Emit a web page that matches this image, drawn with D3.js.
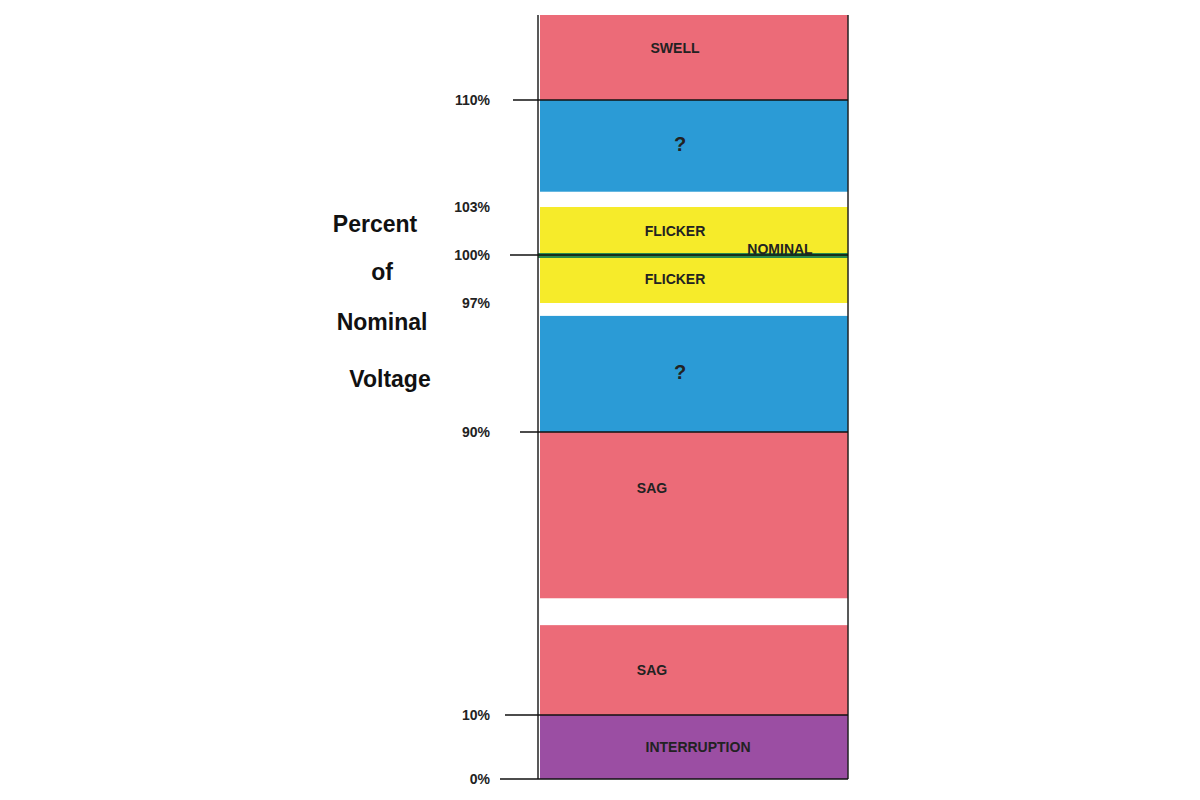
<!DOCTYPE html>
<html><head><meta charset="utf-8">
<script src="https://cdn.jsdelivr.net/npm/d3@7"></script>
<style>body{margin:0;background:#fff}</style></head>
<body><svg id="c" width="1200" height="800"></svg>
<script>
const bandLabels = ["INTERRUPTION","SAG","SAG","?","FLICKER","FLICKER","?","SWELL"];
const bandLow    = [0, 10, 43, 90, 97, 100, 104, 110];
const bandHigh   = [10, 35.4, 90, 96.3, 100, 103, 110, 120];
const bandColors = ["#9b4ea3","#ec6b78","#ec6b78","#2b9bd6","#f6eb2a","#f6eb2a","#2b9bd6","#ec6b78"];
const tickValues = [0, 10, 90, 97, 100, 103, 110];
const tickLabels = ["0%","10%","90%","97%","100%","103%","110%"];
const axisTitle = ["Percent","of","Nominal","Voltage"];

const svg = d3.select("#c");
const y = d3.scaleLinear().domain([0,10,90,97,100,103,110,120]).range([779,715,432,303,255,207,100,15]);
const x0 = 538, x1 = 848;

bandLabels.forEach((l,i)=>{
  const top = y(bandHigh[i]), bot = y(bandLow[i]);
  svg.append("rect").attr("x",x0+2).attr("y",top).attr("width",x1-x0-2).attr("height",bot-top).attr("fill",bandColors[i]);
  let ly = (top+bot)/2+5;
  if (l==="SWELL") ly = top+38;
  if (l==="SAG" && i===2) ly = top+61;
  svg.append("text").attr("x", l==="?" ? 680 : (l==="INTERRUPTION"?698:(l==="SAG"?652:675)))
    .attr("y",ly).attr("text-anchor","middle")
    .attr("font-family","Liberation Sans, Arial").attr("font-weight","bold")
    .attr("font-size", l==="?"?20:14).attr("fill","#222").text(l);
});
svg.append("rect").attr("x",x0).attr("y",y(100)-2).attr("width",x1-x0).attr("height",5).attr("fill","#2a8a4a");
svg.append("text").attr("x",780).attr("y",y(100)-1).attr("text-anchor","middle")
  .attr("font-family","Liberation Sans, Arial").attr("font-weight","bold").attr("font-size",14).attr("fill","#222").text("NOMINAL");

[x0,x1].forEach(xx=>svg.append("line").attr("x1",xx).attr("x2",xx).attr("y1",15).attr("y2",779).attr("stroke","#222").attr("stroke-width",1.5));

const lineStart = {0:500,10:505,90:520,100:510,110:513};
tickValues.forEach((v,i)=>{
  if (lineStart[v]!==undefined)
    svg.append("line").attr("x1",lineStart[v]).attr("x2",x1).attr("y1",y(v)).attr("y2",y(v)).attr("stroke","#111").attr("stroke-width",1.5);
  svg.append("text").attr("x",490).attr("y",y(v)+5)
    .attr("text-anchor","end").attr("font-family","Liberation Sans, Arial").attr("font-weight","bold")
    .attr("font-size",14).attr("fill","#222").text(tickLabels[i]);
});

axisTitle.forEach((t,i)=>svg.append("text").attr("x",[375,382,382,390][i]).attr("y",[232,280,330,387][i])
  .attr("text-anchor","middle").attr("font-family","Liberation Sans, Arial").attr("font-weight","bold")
  .attr("font-size",23).attr("fill","#111").text(t));
</script></body></html>
